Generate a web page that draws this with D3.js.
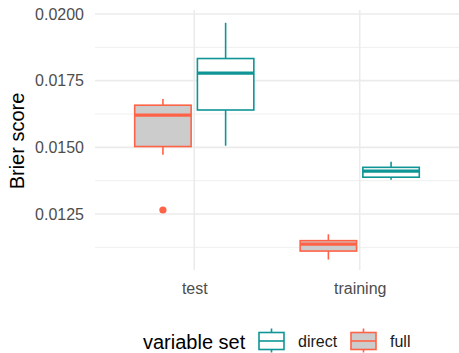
<!DOCTYPE html>
<html>
<head>
<meta charset="utf-8">
<script src="https://cdn.jsdelivr.net/npm/d3@7"></script>
<style>
  html, body { margin: 0; padding: 0; background: #ffffff; }
  svg { display: block; font-family: "Liberation Sans", Arial, Helvetica, sans-serif; }
</style>
</head>
<body>
<svg id="chart" width="459" height="353"></svg>
<script>
// Brier score distributions per data split and variable set
const splits = ["test", "training"];
const variableSets = ["full", "direct"];

// one entry per box: split, variable set and five-number summary
const boxSplit    = ["test",   "test",   "training", "training"];
const boxSet      = ["full",   "direct", "full",     "direct"];
const whiskerLow  = [0.01472,  0.01506,  0.01079,    0.01378];
const lowerHinge  = [0.01503,  0.01640,  0.01111,    0.01388];
const medianValue = [0.01621,  0.01778,  0.01137,    0.01411];
const upperHinge  = [0.01658,  0.01833,  0.01150,    0.01425];
const whiskerHigh = [0.01681,  0.01967,  0.01174,    0.01446];

// outlying runs drawn as points
const outlierSplit = ["test"];
const outlierSet   = ["full"];
const outlierValue = [0.01265];

const yMajorTicks = [0.0125, 0.0150, 0.0175, 0.0200];
const yMinorTicks = [0.01125, 0.01375, 0.01625, 0.01875];

const lineColor = { direct: "#0f9595", full: "#ff6347" };
const fillColor = { direct: "#ffffff", full: "#cccccc" };

const panel = { left: 95, right: 459, top: 10, bottom: 270 };
const svg = d3.select("#chart");

const x = d3.scalePoint().domain(splits).range([panel.left, panel.right]).padding(0.6);
const y = d3.scaleLinear().domain([0.0104, 0.02015]).range([panel.bottom, panel.top]);
const dodge = d3.scaleBand().domain(variableSets)
  .range([-0.36 * x.step(), 0.36 * x.step()]).paddingInner(0.1);

// grid
const grid = svg.append("g");
grid.selectAll("line.minor").data(yMinorTicks).join("line")
  .attr("x1", panel.left).attr("x2", panel.right)
  .attr("y1", d => y(d)).attr("y2", d => y(d))
  .attr("stroke", "#efefef").attr("stroke-width", 1);
grid.selectAll("line.major").data(yMajorTicks).join("line")
  .attr("x1", panel.left).attr("x2", panel.right)
  .attr("y1", d => y(d)).attr("y2", d => y(d))
  .attr("stroke", "#ebebeb").attr("stroke-width", 1.6);
grid.selectAll("line.vmajor").data(splits).join("line")
  .attr("x1", d => x(d)).attr("x2", d => x(d))
  .attr("y1", panel.top).attr("y2", panel.bottom)
  .attr("stroke", "#ebebeb").attr("stroke-width", 1.6);

// axes
const yAxis = svg.append("g").attr("transform", `translate(${panel.left},0)`)
  .call(d3.axisLeft(y).tickValues(yMajorTicks).tickFormat(d3.format(".4f")).tickSize(0).tickPadding(11));
const xAxis = svg.append("g").attr("transform", `translate(0,${panel.bottom})`)
  .call(d3.axisBottom(x).tickSize(0).tickPadding(12.5));
[yAxis, xAxis].forEach(a => {
  a.select(".domain").remove();
  a.selectAll("text").attr("font-size", 16).attr("fill", "#4d4d4d")
    .attr("font-family", "'Liberation Sans', Arial, sans-serif");
});

svg.append("text")
  .attr("transform", "translate(24,141) rotate(-90)")
  .attr("text-anchor", "middle")
  .attr("font-size", 20).attr("fill", "#000")
  .text("Brier score");

// boxes
const boxes = boxSplit.map((s, i) => ({
  split: s, set: boxSet[i],
  lo: whiskerLow[i], q1: lowerHinge[i], med: medianValue[i], q3: upperHinge[i], hi: whiskerHigh[i]
}));
const bw = dodge.bandwidth();
const gBox = svg.append("g").selectAll("g").data(boxes).join("g")
  .attr("transform", d => `translate(${x(d.split) + dodge(d.set)},0)`);
gBox.append("line")
  .attr("x1", bw / 2).attr("x2", bw / 2)
  .attr("y1", d => y(d.hi)).attr("y2", d => y(d.q3))
  .attr("stroke", d => lineColor[d.set]).attr("stroke-width", 1.6);
gBox.append("line")
  .attr("x1", bw / 2).attr("x2", bw / 2)
  .attr("y1", d => y(d.q1)).attr("y2", d => y(d.lo))
  .attr("stroke", d => lineColor[d.set]).attr("stroke-width", 1.6);
gBox.append("rect")
  .attr("x", 0).attr("width", bw)
  .attr("y", d => y(d.q3)).attr("height", d => y(d.q1) - y(d.q3))
  .attr("fill", d => fillColor[d.set])
  .attr("stroke", d => lineColor[d.set]).attr("stroke-width", 1.6);
gBox.append("line")
  .attr("x1", 0).attr("x2", bw)
  .attr("y1", d => y(d.med)).attr("y2", d => y(d.med))
  .attr("stroke", d => lineColor[d.set]).attr("stroke-width", 3.2);

// outliers
svg.append("g").selectAll("circle").data(outlierValue).join("circle")
  .attr("cx", (d, i) => x(outlierSplit[i]) + dodge(outlierSet[i]) + bw / 2)
  .attr("cy", d => y(d))
  .attr("r", 3.6)
  .attr("fill", (d, i) => lineColor[outlierSet[i]]);

// legend
const legend = svg.append("g");
legend.append("text").attr("x", 143).attr("y", 348.5)
  .attr("font-size", 20).attr("fill", "#000").text("variable set");
const legendItems = [
  { set: "direct", keyX: 259, textX: 298 },
  { set: "full", keyX: 351, textX: 390 }
];
const keyW = 25, keyTop = 332.5, keyBottom = 349.5;
const li = legend.selectAll("g.item").data(legendItems).join("g");
li.append("line")
  .attr("x1", d => d.keyX + keyW / 2).attr("x2", d => d.keyX + keyW / 2)
  .attr("y1", keyTop - 4).attr("y2", keyBottom + 3)
  .attr("stroke", d => lineColor[d.set]).attr("stroke-width", 1.6);
li.append("rect")
  .attr("x", d => d.keyX).attr("y", keyTop).attr("width", keyW).attr("height", keyBottom - keyTop)
  .attr("fill", d => fillColor[d.set])
  .attr("stroke", d => lineColor[d.set]).attr("stroke-width", 1.6);
li.append("line")
  .attr("x1", d => d.keyX).attr("x2", d => d.keyX + keyW)
  .attr("y1", (keyTop + keyBottom) / 2).attr("y2", (keyTop + keyBottom) / 2)
  .attr("stroke", d => lineColor[d.set]).attr("stroke-width", 1.6);
li.append("text")
  .attr("x", d => d.textX).attr("y", 346.5)
  .attr("font-size", 16).attr("fill", "#1a1a1a")
  .text(d => d.set);
</script>
</body>
</html>
